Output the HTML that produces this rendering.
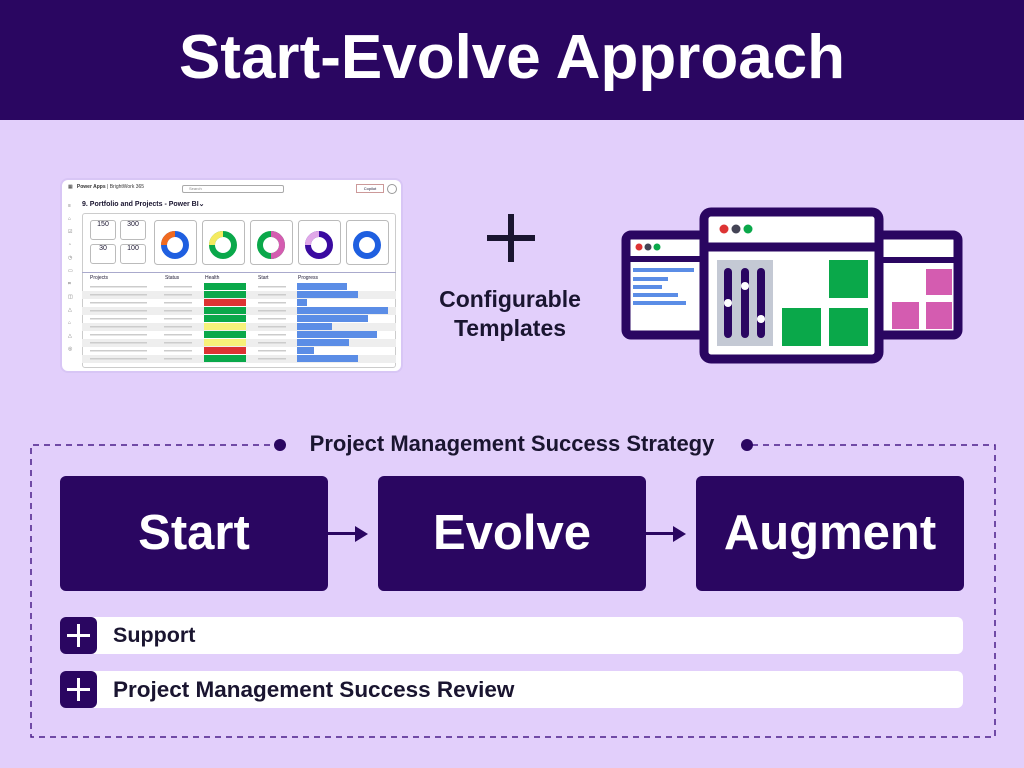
<!DOCTYPE html>
<html><head><meta charset="utf-8"><style>
*{margin:0;padding:0;box-sizing:border-box}
body{width:1024px;height:768px;background:#e2cffb;font-family:"Liberation Sans",sans-serif;position:relative;overflow:hidden;color:#1a1530}
.a{position:absolute}
.hdr{left:0;top:0;width:1024px;height:120px;background:#2a0661;color:#fff;font-size:62px;font-weight:bold;text-align:center;line-height:116px}
.box{background:#2a0661;border-radius:6px;color:#fff;font-size:49px;font-weight:bold;text-align:center;line-height:115px;width:268px;height:115px;top:476px}
.bar{left:60px;width:903px;height:37px;background:#fff;border-radius:6px;font-weight:bold;line-height:37px;padding-left:53px}
.pl{position:absolute;left:0;top:0;width:37px;height:37px;background:#2a0661;border-radius:6px}
.pl:before{content:"";position:absolute;left:7px;top:17px;width:23px;height:3px;background:#fff}
.pl:after{content:"";position:absolute;left:17px;top:7px;width:3px;height:23px;background:#fff}
.ar{height:3px;background:#2a0661}
.ah{width:0;height:0;border-top:8px solid transparent;border-bottom:8px solid transparent;border-left:13px solid #2a0661}
</style></head><body>
<div class="a hdr">Start-Evolve Approach</div>

<div class="a" style="left:60px;top:178px;width:343px;height:195px;background:#fff;border-radius:8px;border:2px solid #d8c6f5">
<div class="a" style="left:6px;top:4px;font-size:5px;color:#333">▦ &nbsp; <b>Power Apps</b> | BrightWork 365</div>
<div class="a" style="left:120px;top:5px;width:102px;height:8px;border:1px solid #aaa;border-radius:2px;font-size:4px;color:#888;padding-left:6px">Search</div>
<div class="a" style="left:294px;top:4px;width:28px;height:9px;border:1px solid #c99;font-size:4px;line-height:8px;text-align:center">Copilot</div>
<div class="a" style="left:325px;top:4px;width:10px;height:10px;border:1px solid #999;border-radius:50%"></div>
<div class="a" style="left:20px;top:20px;font-size:7px;font-weight:bold">9. Portfolio and Projects - Power BI⌄</div>
<div class="a" style="left:20px;top:33px;width:314px;height:155px;border:1px solid #ccc;border-radius:3px"></div>
<div class="a" style="left:28px;top:40px;width:26px;height:20px;border:1px solid #bbb;border-radius:3px;font-size:7px;text-align:center">150</div>
<div class="a" style="left:58px;top:40px;width:26px;height:20px;border:1px solid #bbb;border-radius:3px;font-size:7px;text-align:center">300</div>
<div class="a" style="left:28px;top:64px;width:26px;height:20px;border:1px solid #bbb;border-radius:3px;font-size:7px;text-align:center">30</div>
<div class="a" style="left:58px;top:64px;width:26px;height:20px;border:1px solid #bbb;border-radius:3px;font-size:7px;text-align:center">100</div>
<svg class="a" style="left:92px;top:40px" width="242" height="46">
<g fill="none" stroke="#bbb"><rect x="0.5" y="0.5" width="42" height="44" rx="3"/><rect x="48.5" y="0.5" width="42" height="44" rx="3"/><rect x="96.5" y="0.5" width="42" height="44" rx="3"/><rect x="144.5" y="0.5" width="42" height="44" rx="3"/><rect x="192.5" y="0.5" width="42" height="44" rx="3"/></g>
<g fill="none" stroke-width="6">
<circle cx="21" cy="25" r="11" stroke="#1f5fe0"/><path d="M10 25 A11 11 0 0 1 21 14" stroke="#f06a20"/>
<circle cx="69" cy="25" r="11" stroke="#0aa84a"/><path d="M58 25 A11 11 0 0 1 69 14" stroke="#f5ea60"/>
<circle cx="117" cy="25" r="11" stroke="#0aa84a"/><path d="M117 14 A11 11 0 0 1 117 36" stroke="#d45cb0"/>
<circle cx="165" cy="25" r="11" stroke="#3a0aa0"/><path d="M154 25 A11 11 0 0 1 165 14" stroke="#e0a8e8"/>
<circle cx="213" cy="25" r="11" stroke="#1f5fe0"/></g></svg>
<div class="a" style="left:20px;top:92px;width:314px;height:1px;background:#aac"></div>
<div class="a" style="left:28px;top:95px;font-size:5px;width:300px"><span class="a" style="left:0">Projects</span><span class="a" style="left:75px">Status</span><span class="a" style="left:115px">Health</span><span class="a" style="left:168px">Start</span><span class="a" style="left:208px">Progress</span></div>
<svg class="a" style="left:20px;top:103px" width="314" height="82">
<g fill="#eee"><rect y="8" width="314" height="8"/><rect y="24" width="314" height="8"/><rect y="40" width="314" height="8"/><rect y="56" width="314" height="8"/><rect y="72" width="314" height="8"/></g>
<g fill="#0aa84a"><rect x="122" y="0" width="42" height="7"/><rect x="122" y="8" width="42" height="7"/><rect x="122" y="24" width="42" height="7"/><rect x="122" y="32" width="42" height="7"/><rect x="122" y="48" width="42" height="7"/><rect x="122" y="72" width="42" height="7"/></g>
<g fill="#d33"><rect x="122" y="16" width="42" height="7"/><rect x="122" y="64" width="42" height="7"/></g>
<g fill="#f7f27a"><rect x="122" y="40" width="42" height="7"/><rect x="122" y="56" width="42" height="7"/></g>
<g fill="#5b8de6"><rect x="215" y="0" width="50" height="7"/><rect x="215" y="8" width="61" height="7"/><rect x="215" y="16" width="10" height="7"/><rect x="215" y="24" width="91" height="7"/><rect x="215" y="32" width="71" height="7"/><rect x="215" y="40" width="35" height="7"/><rect x="215" y="48" width="80" height="7"/><rect x="215" y="56" width="52" height="7"/><rect x="215" y="64" width="17" height="7"/><rect x="215" y="72" width="61" height="7"/></g>
<g fill="#ccc"><rect x="8" y="3" width="57" height="1.5"/><rect x="8" y="11" width="57" height="1.5"/><rect x="8" y="19" width="57" height="1.5"/><rect x="8" y="27" width="57" height="1.5"/><rect x="8" y="35" width="57" height="1.5"/><rect x="8" y="43" width="57" height="1.5"/><rect x="8" y="51" width="57" height="1.5"/><rect x="8" y="59" width="57" height="1.5"/><rect x="8" y="67" width="57" height="1.5"/><rect x="8" y="75" width="57" height="1.5"/>
<rect x="82" y="3" width="28" height="1.5"/><rect x="82" y="11" width="28" height="1.5"/><rect x="82" y="19" width="28" height="1.5"/><rect x="82" y="27" width="28" height="1.5"/><rect x="82" y="35" width="28" height="1.5"/><rect x="82" y="43" width="28" height="1.5"/><rect x="82" y="51" width="28" height="1.5"/><rect x="82" y="59" width="28" height="1.5"/><rect x="82" y="67" width="28" height="1.5"/><rect x="82" y="75" width="28" height="1.5"/>
<rect x="176" y="3" width="28" height="1.5"/><rect x="176" y="11" width="28" height="1.5"/><rect x="176" y="19" width="28" height="1.5"/><rect x="176" y="27" width="28" height="1.5"/><rect x="176" y="35" width="28" height="1.5"/><rect x="176" y="43" width="28" height="1.5"/><rect x="176" y="51" width="28" height="1.5"/><rect x="176" y="59" width="28" height="1.5"/><rect x="176" y="67" width="28" height="1.5"/><rect x="176" y="75" width="28" height="1.5"/></g>
</svg>
<div class="a" style="left:6px;top:20px;width:6px;font-size:5px;line-height:13px;color:#777">≡<br>⌂<br>☑<br>◔<br>◷<br>▭<br>⌗<br>◫<br>△<br>⌂<br>△<br>◎</div>
</div>

<div class="a" style="left:487px;top:235px;width:48px;height:6px;background:#1a1530"></div>
<div class="a" style="left:508px;top:214px;width:6px;height:48px;background:#1a1530"></div>
<div class="a" style="left:410px;top:285px;width:200px;text-align:center;font-size:23px;font-weight:bold;line-height:29px">Configurable<br>Templates</div>

<svg class="a" style="left:610px;top:200px" width="360" height="170">
<rect x="16" y="35" width="86" height="100" rx="5" fill="#fff" stroke="#2a0661" stroke-width="9"/>
<line x1="16" y1="59" x2="102" y2="59" stroke="#2a0661" stroke-width="6"/>
<circle cx="29" cy="47" r="3.5" fill="#d33"/><circle cx="38" cy="47" r="3.5" fill="#445"/><circle cx="47" cy="47" r="3.5" fill="#0aa84a"/>
<g fill="#5b8de6"><rect x="23" y="68" width="61" height="4"/><rect x="23" y="77" width="35" height="4"/><rect x="23" y="85" width="29" height="4"/><rect x="23" y="93" width="45" height="4"/><rect x="23" y="101" width="53" height="4"/></g>
<rect x="255" y="35" width="93" height="100" rx="5" fill="#fff" stroke="#2a0661" stroke-width="9"/>
<line x1="255" y1="60" x2="348" y2="60" stroke="#2a0661" stroke-width="6"/>
<g fill="#d45cb0"><rect x="316" y="69" width="26" height="26"/><rect x="282" y="102" width="27" height="27"/><rect x="316" y="102" width="26" height="27"/></g>
<rect x="94" y="12" width="175" height="147" rx="7" fill="#fff" stroke="#2a0661" stroke-width="9"/>
<line x1="94" y1="47" x2="269" y2="47" stroke="#2a0661" stroke-width="9"/>
<circle cx="114" cy="29" r="4.5" fill="#d33"/><circle cx="126" cy="29" r="4.5" fill="#445"/><circle cx="138" cy="29" r="4.5" fill="#0aa84a"/>
<rect x="107" y="60" width="56" height="86" fill="#c4c9d4"/>
<g stroke="#2a0661" stroke-width="8" stroke-linecap="round"><line x1="118" y1="72" x2="118" y2="134"/><line x1="135" y1="72" x2="135" y2="134"/><line x1="151" y1="72" x2="151" y2="134"/></g>
<g fill="#fff"><circle cx="118" cy="103" r="4"/><circle cx="135" cy="86" r="4"/><circle cx="151" cy="119" r="4"/></g>
<g fill="#0aa84a"><rect x="219" y="60" width="39" height="38"/><rect x="172" y="108" width="39" height="38"/><rect x="219" y="108" width="39" height="38"/></g>
</svg>

<svg class="a" style="left:0;top:430px" width="1024" height="320">
<path d="M270 15 H31 V307 H995 V15 H747" fill="none" stroke="#4a1e8a" stroke-width="1.5" stroke-dasharray="6 5"/>
<circle cx="280" cy="15" r="6" fill="#2a0661"/><circle cx="747" cy="15" r="6" fill="#2a0661"/>
</svg>
<div class="a" style="left:292px;top:431px;width:440px;text-align:center;font-size:22px;font-weight:bold;line-height:26px">Project Management Success Strategy</div>

<div class="a box" style="left:60px">Start</div>
<div class="a box" style="left:378px">Evolve</div>
<div class="a box" style="left:696px">Augment</div>
<div class="a ar" style="left:328px;top:532px;width:28px"></div><div class="a ah" style="left:355px;top:526px"></div>
<div class="a ar" style="left:646px;top:532px;width:28px"></div><div class="a ah" style="left:673px;top:526px"></div>

<div class="a bar" style="top:617px;font-size:21.5px"><span class="pl"></span>Support</div>
<div class="a bar" style="top:671px;font-size:22.5px"><span class="pl"></span>Project Management Success Review</div>
</body></html>
